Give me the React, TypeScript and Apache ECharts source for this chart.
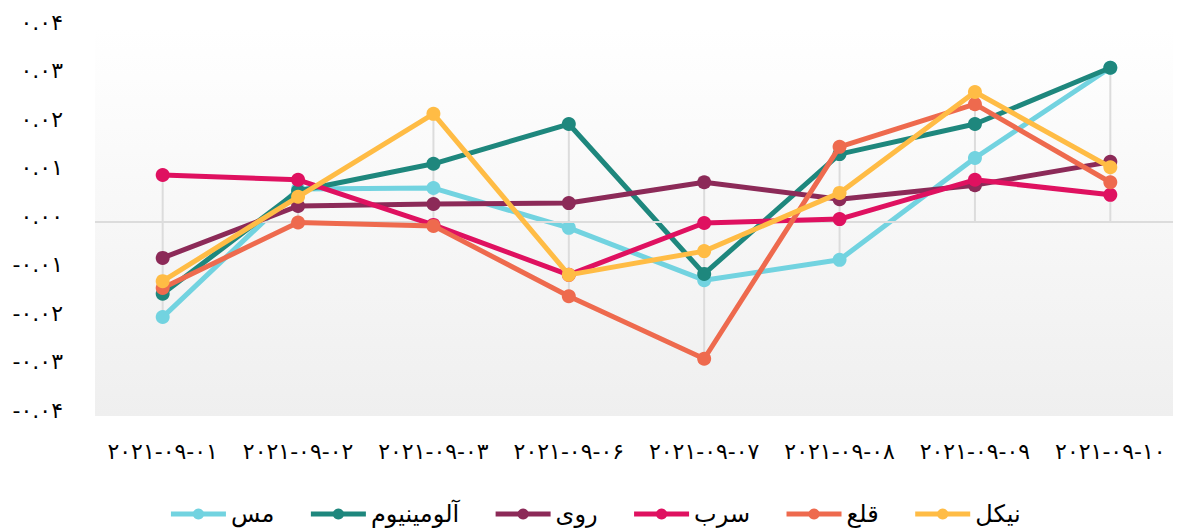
import React, { useEffect, useRef } from "react";
import * as echarts from "echarts";

const categories = ["2021-09-01", "2021-09-02", "2021-09-03", "2021-09-06", "2021-09-07", "2021-09-08", "2021-09-09", "2021-09-10"];
const seriesNames = ["مس", "آلومینیوم", "روی", "سرب", "قلع", "نیکل"];
const colors = ["#72D3E0", "#1E877D", "#8C2A58", "#DF1160", "#EE6A4E", "#FFBC45"];
const mes = [-0.0196, 0.0068, 0.007, -0.0012, -0.012, -0.0078, 0.0132, 0.0318];
const aluminium = [-0.0148, 0.0064, 0.012, 0.0202, -0.0107, 0.014, 0.0202, 0.0318];
const ruy = [-0.0074, 0.0033, 0.0037, 0.0039, 0.0082, 0.0047, 0.0076, 0.0124];
const sorb = [0.0097, 0.0087, -0.0006, -0.0109, -0.0002, 0.0006, 0.0087, 0.0056];
const ghal = [-0.0136, -0.0001, -0.0008, -0.0153, -0.0282, 0.0155, 0.0243, 0.0082];
const nickel = [-0.0122, 0.0052, 0.0223, -0.0109, -0.006, 0.006, 0.0268, 0.0113];
const allSeries = [mes, aluminium, ruy, sorb, ghal, nickel];

const faDigits = "۰۱۲۳۴۵۶۷۸۹";
const toFa = (s: string) => s.replace(/[0-9]/g, (d) => faDigits[Number(d)]);

const FONT = "DejaVu Sans";

export default function App() {
  const ref = useRef<HTMLDivElement>(null);
  useEffect(() => {
    if (!ref.current) return;
    const chart = echarts.init(ref.current, null, { renderer: "svg" });
    const ranges = categories.map((_, i) => {
      const vals = allSeries.map((s) => s[i]);
      return [i, Math.min(0, ...vals), Math.max(0, ...vals)];
    });
    const lineSeries = seriesNames.map((name, k) => ({
      name,
      type: "line",
      data: allSeries[k],
      symbol: "circle",
      symbolSize: 14,
      lineStyle: { width: 5, color: colors[k] },
      itemStyle: { color: colors[k] },
      z: 3 + k,
    }));
    chart.setOption({
      animation: false,
      grid: {
        left: 87,
        right: 3,
        top: 20,
        bottom: 115,
        show: true,
        borderWidth: 0,
        backgroundColor: new echarts.graphic.LinearGradient(0, 0, 0, 1, [
          { offset: 0, color: "#ffffff" },
          { offset: 1, color: "#efefef" },
        ]),
      },
      legend: {
        bottom: 0,
        left: "center",
        itemWidth: 55,
        itemHeight: 14,
        itemGap: 34,
        data: seriesNames,
        lineStyle: { width: 5 },
        textStyle: { fontFamily: FONT, fontSize: 24, color: "#000" },
      },
      xAxis: {
        type: "category",
        data: categories,
        axisLine: { show: false },
        axisTick: { show: false },
        splitLine: { show: false },
        axisLabel: {
          formatter: (v: string) => toFa(v),
          fontFamily: FONT,
          fontSize: 22,
          color: "#000",
          margin: 24,
          interval: 0,
        },
      },
      yAxis: {
        type: "value",
        min: -0.04,
        max: 0.04,
        interval: 0.01,
        axisLine: { show: false },
        axisTick: { show: false },
        splitLine: { show: false },
        axisLabel: {
          formatter: (v: number) => toFa(v.toFixed(2)),
          fontFamily: FONT,
          fontSize: 22,
          color: "#000",
          margin: 32,
          verticalAlign: "bottom",
          lineHeight: 12,
        },
      },
      series: [
        {
          type: "custom",
          silent: true,
          z: 1,
          data: ranges,
          renderItem: (params: any, api: any) => {
            const p1 = api.coord([api.value(0), api.value(1)]);
            const p2 = api.coord([api.value(0), api.value(2)]);
            return {
              type: "line",
              shape: { x1: p1[0], y1: p1[1], x2: p2[0], y2: p2[1] },
              style: { stroke: "#dcdcdc", lineWidth: 2 },
            };
          },
          markLine: {
            silent: true,
            symbol: "none",
            label: { show: false },
            lineStyle: { color: "#dcdcdc", width: 2, type: "solid" },
            data: [{ yAxis: 0 }],
          },
        },
        ...lineSeries,
      ],
    });
    return () => chart.dispose();
  }, []);
  return <div ref={ref} style={{ width: 1173, height: 523 }} />;
}
